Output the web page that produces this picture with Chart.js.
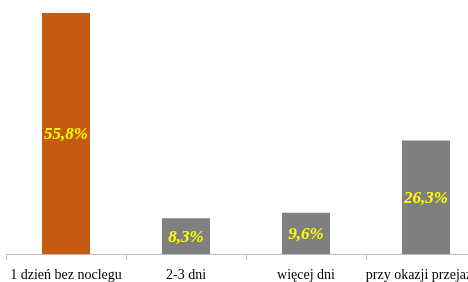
<!DOCTYPE html>
<html>
<head>
<meta charset="utf-8">
<script src="https://cdn.jsdelivr.net/npm/chart.js@4/dist/chart.umd.min.js"></script>
<style>
  html, body { margin: 0; padding: 0; background: #fff; overflow: hidden; }
  #wrap { width: 486px; height: 282px; overflow: hidden; }
</style>
</head>
<body>
<div id="wrap"><canvas id="tripChart" width="486" height="291"></canvas></div>
<script>
// Chart data
const categories = ['1 dzień bez noclegu', '2-3 dni', 'więcej dni', 'przy okazji przejazdu'];
const shares = [55.8, 8.3, 9.6, 26.3];
const barColors = ['#C55A11', '#7F7F7F', '#7F7F7F', '#7F7F7F'];

// Format value as Polish percent
function formatPercent(v) {
    return v.toFixed(1).replace('.', ',') + '%';
}

// Draw value labels centred inside each bar
const valueLabels = {
    id: 'valueLabels',
    afterDatasetsDraw(chart) {
        const ctx = chart.ctx;
        const meta = chart.getDatasetMeta(0);
        ctx.save();
        ctx.font = 'italic bold 17px "Liberation Serif", "Times New Roman", serif';
        ctx.fillStyle = '#FFFF00';
        ctx.textAlign = 'center';
        ctx.textBaseline = 'middle';
        meta.data.forEach((bar, i) => {
            const mid = (bar.y + bar.base) / 2;
            ctx.fillText(formatPercent(shares[i]), bar.x, mid + 1);
        });
        ctx.restore();
    }
};

const chart = new Chart(document.getElementById('tripChart'), {
    type: 'bar',
    data: {
        labels: categories,
        datasets: [{
            data: shares,
            backgroundColor: barColors,
            categoryPercentage: 1,
            barPercentage: 0.4
        }]
    },
    options: {
        responsive: false,
        animation: false,
        layout: { padding: { top: 13, left: 6, right: 0, bottom: 0 } },
        plugins: {
            legend: { display: false },
            tooltip: { enabled: false }
        },
        scales: {
            y: {
                display: false,
                min: 0,
                max: Math.max(...shares)
            },
            x: {
                afterFit(scale) {
                    scale.paddingLeft = 0;
                    scale.paddingRight = 0;
                },
                border: { color: '#BFBFBF', width: 1 },
                grid: {
                    offset: true,
                    drawOnChartArea: false,
                    color: '#BFBFBF',
                    tickLength: 6
                },
                ticks: {
                    autoSkip: false,
                    maxRotation: 0,
                    color: '#000',
                    padding: 7,
                    font: { family: '"Liberation Serif", "Times New Roman", serif', size: 14 }
                }
            }
        }
    },
    plugins: [valueLabels]
});
</script>
</body>
</html>
